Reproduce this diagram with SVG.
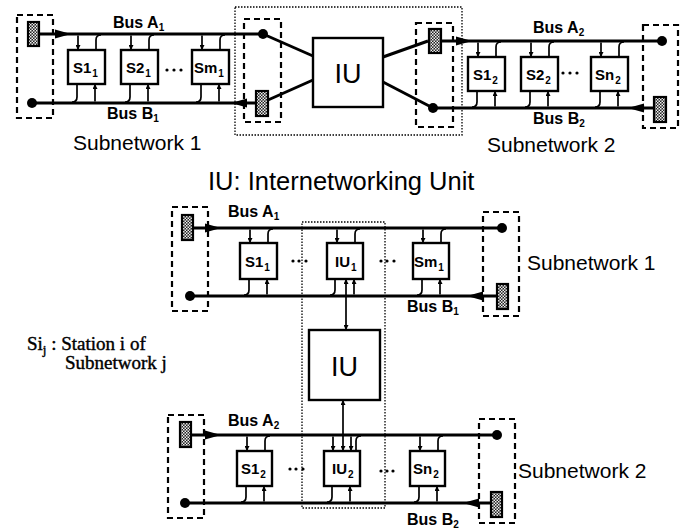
<svg xmlns="http://www.w3.org/2000/svg" width="688" height="529" viewBox="0 0 688 529">
<style>
.bus{stroke:#000;stroke-width:3;fill:none}
.box{fill:#fff;stroke:#000;stroke-width:2.4}
.tap{stroke:#000;stroke-width:1.7;fill:none}
.dash{fill:none;stroke:#000;stroke-width:2.2;stroke-dasharray:6 4}
.dot{fill:none;stroke:#000;stroke-width:1.3;stroke-dasharray:1.5 1.5}
.term{fill:url(#hatch);stroke:#000;stroke-width:2.2}
.ah{fill:#000}
.jn{fill:#000}
.lbl{font-family:"Liberation Sans",Arial,sans-serif;font-weight:bold;font-size:16px;fill:#000}
.st{font-family:"Liberation Sans",Arial,sans-serif;font-weight:bold;font-size:15px;fill:#000}
.ss{font-size:10px}
.big{font-family:"Liberation Sans",Arial,sans-serif;font-size:21px;fill:#000}
.iu{font-family:"Liberation Sans",Arial,sans-serif;font-size:27px;fill:#000;text-anchor:middle}
.cap{font-family:"Liberation Sans",Arial,sans-serif;font-size:25.5px;fill:#000}
.ser{font-family:"Liberation Serif","Times New Roman",serif;font-size:19px;fill:#000;stroke:#000;stroke-width:0.4}
</style>
<defs>
<pattern id="hatch" width="3" height="3" patternUnits="userSpaceOnUse">
<rect width="3" height="3" fill="#222"/>
<rect width="1.5" height="1.5" fill="#eee"/>
<rect x="1.5" y="1.5" width="1.5" height="1.5" fill="#eee"/>
</pattern>
<marker id="sa" viewBox="0 0 6 6" refX="6" refY="3" markerWidth="5" markerHeight="5" orient="auto-start-reverse" markerUnits="userSpaceOnUse">
<path d="M0,0L6,3L0,6z" fill="#000"/>
</marker>
</defs>
<rect width="688" height="529" fill="#fff"/>

<!-- ================= TOP DIAGRAM ================= -->
<g id="top-frames">
<rect class="dash" x="17" y="15" width="36" height="103"/>
<rect class="dot" x="235" y="7" width="227" height="128"/>
<rect class="dash" x="244" y="19" width="37" height="103"/>
<rect class="dash" x="416" y="23" width="37" height="104"/>
<rect class="dash" x="643" y="25" width="35" height="103"/>
</g>

<g id="connectors-top">
<path class="bus" d="M39,34H263"/>
<path class="bus" d="M32,103H255"/>
<path class="bus" d="M263,34L313,56"/>
<path class="bus" d="M268,100L313,80"/>
<path class="bus" d="M383,57L428,41"/>
<path class="bus" d="M383,82L433,108"/>
<path class="bus" d="M442,41H662"/>
<path class="bus" d="M433,108H653"/>
<polygon class="ah" points="55,29.5 71,34 55,38.5"/>
<polygon class="ah" points="247,98.5 231,103 247,107.5"/>
<polygon class="ah" points="456,36.5 472,41 456,45.5"/>
<polygon class="ah" points="644,103.5 628,108 644,112.5"/>
<circle class="jn" cx="32" cy="103" r="5"/>
<circle class="jn" cx="263" cy="34" r="5"/>
<circle class="jn" cx="433" cy="108" r="5"/>
<circle class="jn" cx="662" cy="41" r="5"/>
<!-- taps subnet 1 top -->
<path class="tap" d="M78,35.5V50" marker-end="url(#sa)"/>
<path class="tap" d="M96,50V40Q96,35 101,35"/>
<path class="tap" d="M77,84V97Q77,102 72,102"/>
<path class="tap" d="M95,101.5V84" marker-end="url(#sa)"/>
<path class="tap" d="M131,35.5V50" marker-end="url(#sa)"/>
<path class="tap" d="M149,50V40Q149,35 154,35"/>
<path class="tap" d="M130,84V97Q130,102 125,102"/>
<path class="tap" d="M148,101.5V84" marker-end="url(#sa)"/>
<path class="tap" d="M202,35.5V50" marker-end="url(#sa)"/>
<path class="tap" d="M220,50V40Q220,35 225,35"/>
<path class="tap" d="M201,84V97Q201,102 196,102"/>
<path class="tap" d="M219,101.5V84" marker-end="url(#sa)"/>
<!-- taps subnet 2 top -->
<path class="tap" d="M478,42.5V57" marker-end="url(#sa)"/>
<path class="tap" d="M496,57V47Q496,42 501,42"/>
<path class="tap" d="M477,91V102Q477,107 472,107"/>
<path class="tap" d="M495,106.5V91" marker-end="url(#sa)"/>
<path class="tap" d="M531,42.5V57" marker-end="url(#sa)"/>
<path class="tap" d="M549,57V47Q549,42 554,42"/>
<path class="tap" d="M530,91V102Q530,107 525,107"/>
<path class="tap" d="M548,106.5V91" marker-end="url(#sa)"/>
<path class="tap" d="M601,42.5V57" marker-end="url(#sa)"/>
<path class="tap" d="M619,57V47Q619,42 624,42"/>
<path class="tap" d="M600,91V102Q600,107 595,107"/>
<path class="tap" d="M618,106.5V91" marker-end="url(#sa)"/>
</g>

<g id="t-term-l"><rect class="term" x="28" y="22" width="11" height="24"/></g>
<g id="t-term-m1"><rect class="term" x="256" y="91" width="12" height="25"/></g>
<g id="t-term-m2"><rect class="term" x="429" y="29" width="12" height="24"/></g>
<g id="t-term-r"><rect class="term" x="654" y="97" width="12" height="25"/></g>

<g id="t-S1-1"><rect class="box" x="68" y="50" width="37" height="34"/><text class="st" x="73" y="73">S1<tspan class="ss" dx="1" dy="4">1</tspan></text></g>
<g id="t-S2-1"><rect class="box" x="121" y="50" width="37" height="34"/><text class="st" x="126" y="73">S2<tspan class="ss" dx="1" dy="4">1</tspan></text></g>
<g id="t-Sm-1"><rect class="box" x="192" y="50" width="37" height="34"/><text class="st" x="194" y="73">Sm<tspan class="ss" dx="1" dy="4">1</tspan></text></g>
<g id="t-dots1"><circle cx="167" cy="70" r="1.6"/><circle cx="174" cy="70" r="1.6"/><circle cx="181" cy="70" r="1.6"/></g>

<g id="t-S1-2"><rect class="box" x="468" y="57" width="37" height="34"/><text class="st" x="473" y="80">S1<tspan class="ss" dx="1" dy="4">2</tspan></text></g>
<g id="t-S2-2"><rect class="box" x="521" y="57" width="37" height="34"/><text class="st" x="526" y="80">S2<tspan class="ss" dx="1" dy="4">2</tspan></text></g>
<g id="t-Sn-2"><rect class="box" x="591" y="57" width="37" height="34"/><text class="st" x="595" y="80">Sn<tspan class="ss" dx="1" dy="4">2</tspan></text></g>
<g id="t-dots2"><circle cx="563" cy="73" r="1.6"/><circle cx="570" cy="73" r="1.6"/><circle cx="577" cy="73" r="1.6"/></g>

<g id="t-IU"><rect class="box" x="313" y="38" width="70" height="69"/><text class="iu" x="348" y="83">IU</text></g>

<g id="t-labels">
<text class="lbl" x="113" y="28">Bus A<tspan class="ss" dy="3">1</tspan></text>
<text class="lbl" x="107" y="119">Bus B<tspan class="ss" dy="3">1</tspan></text>
<text class="lbl" x="533" y="33">Bus A<tspan class="ss" dy="3">2</tspan></text>
<text class="lbl" x="533" y="124">Bus B<tspan class="ss" dy="3">2</tspan></text>
<text class="big" x="73" y="150">Subnetwork 1</text>
<text class="big" x="487" y="152">Subnetwork 2</text>
<text class="cap" x="208" y="190">IU: Internetworking Unit</text>
</g>

<!-- ================= BOTTOM DIAGRAM ================= -->
<g id="bottom-frames">
<rect class="dash" x="172" y="207" width="36" height="104"/>
<rect class="dash" x="483" y="212" width="36" height="104"/>
<rect class="dash" x="168" y="415" width="36" height="103"/>
<rect class="dash" x="479" y="419" width="36" height="104"/>
<rect class="dot" x="302" y="222" width="83" height="286"/>
</g>

<g id="connectors-bottom">
<path class="bus" d="M194,228H502"/>
<path class="bus" d="M190,296H496"/>
<path class="bus" d="M192,435H497"/>
<path class="bus" d="M185,503H491"/>
<polygon class="ah" points="205,223.5 221,228 205,232.5"/>
<polygon class="ah" points="483,291.5 467,296 483,300.5"/>
<polygon class="ah" points="205,430.5 221,435 205,439.5"/>
<polygon class="ah" points="479,498.5 463,503 479,507.5"/>
<circle class="jn" cx="190" cy="296" r="5"/>
<circle class="jn" cx="502" cy="228" r="5"/>
<circle class="jn" cx="185" cy="503" r="5"/>
<circle class="jn" cx="497" cy="435" r="5"/>
<!-- IU links -->
<path class="tap" d="M346,279V330" marker-start="url(#sa)" marker-end="url(#sa)"/>
<path class="tap" d="M343,400V451" marker-start="url(#sa)" marker-end="url(#sa)"/>
<!-- subnet 1 taps -->
<path class="tap" d="M250,229.5V243" marker-end="url(#sa)"/>
<path class="tap" d="M268,243V234Q268,229 273,229"/>
<path class="tap" d="M249,279V290Q249,295 244,295"/>
<path class="tap" d="M267,294.5V279" marker-end="url(#sa)"/>
<path class="tap" d="M337,229.5V243" marker-end="url(#sa)"/>
<path class="tap" d="M355,243V234Q355,229 360,229"/>
<path class="tap" d="M335,279V290Q335,295 330,295"/>
<path class="tap" d="M354,294.5V279" marker-end="url(#sa)"/>
<path class="tap" d="M423,229.5V243" marker-end="url(#sa)"/>
<path class="tap" d="M441,243V234Q441,229 446,229"/>
<path class="tap" d="M422,279V290Q422,295 417,295"/>
<path class="tap" d="M440,294.5V279" marker-end="url(#sa)"/>
<!-- subnet 2 taps -->
<path class="tap" d="M247,436.5V451" marker-end="url(#sa)"/>
<path class="tap" d="M265,451V441Q265,436 270,436"/>
<path class="tap" d="M246,486V497Q246,502 241,502"/>
<path class="tap" d="M264,501.5V486" marker-end="url(#sa)"/>
<path class="tap" d="M333,436.5V451" marker-end="url(#sa)"/>
<path class="tap" d="M351,436.5V451" marker-end="url(#sa)"/>
<path class="tap" d="M356,451V441Q356,436 361,436"/>
<path class="tap" d="M332,486V497Q332,502 327,502"/>
<path class="tap" d="M350,501.5V486" marker-end="url(#sa)"/>
<path class="tap" d="M420,436.5V451" marker-end="url(#sa)"/>
<path class="tap" d="M438,451V441Q438,436 443,436"/>
<path class="tap" d="M419,486V497Q419,502 414,502"/>
<path class="tap" d="M437,501.5V486" marker-end="url(#sa)"/>
</g>

<g id="b-term1l"><rect class="term" x="182" y="215" width="11" height="25"/></g>
<g id="b-term1r"><rect class="term" x="497" y="284" width="11" height="25"/></g>
<g id="b-term2l"><rect class="term" x="180" y="422" width="11" height="25"/></g>
<g id="b-term2r"><rect class="term" x="491" y="492" width="11" height="25"/></g>

<g id="b-S1-1"><rect class="box" x="240" y="243" width="37" height="36"/><text class="st" x="245" y="267">S1<tspan class="ss" dx="1" dy="4">1</tspan></text></g>
<g id="b-IU-1"><rect class="box" x="327" y="243" width="36" height="36"/><text class="st" x="335" y="267">IU<tspan class="ss" dx="1" dy="4">1</tspan></text></g>
<g id="b-Sm-1"><rect class="box" x="413" y="243" width="36" height="36"/><text class="st" x="414" y="267">Sm<tspan class="ss" dx="1" dy="4">1</tspan></text></g>
<g id="b-dots1a"><circle cx="293" cy="261" r="1.6"/><circle cx="299" cy="261" r="1.6"/><circle cx="306" cy="261" r="1.6"/></g>
<g id="b-dots1b"><circle cx="381" cy="261" r="1.6"/><circle cx="387" cy="261" r="1.6"/><circle cx="394" cy="261" r="1.6"/></g>

<g id="b-IU"><rect class="box" x="309" y="330" width="71" height="70"/><text class="iu" x="344.5" y="376">IU</text></g>

<g id="b-S1-2"><rect class="box" x="237" y="451" width="35" height="35"/><text class="st" x="241" y="474">S1<tspan class="ss" dx="1" dy="4">2</tspan></text></g>
<g id="b-IU-2"><rect class="box" x="324" y="451" width="36" height="35"/><text class="st" x="332" y="474">IU<tspan class="ss" dx="1" dy="4">2</tspan></text></g>
<g id="b-Sn-2"><rect class="box" x="410" y="451" width="35" height="35"/><text class="st" x="413" y="474">Sn<tspan class="ss" dx="1" dy="4">2</tspan></text></g>
<g id="b-dots2a"><circle cx="290" cy="469" r="1.6"/><circle cx="296" cy="469" r="1.6"/><circle cx="303" cy="469" r="1.6"/></g>
<g id="b-dots2b"><circle cx="381" cy="471" r="1.6"/><circle cx="387" cy="471" r="1.6"/><circle cx="393" cy="471" r="1.6"/></g>

<g id="b-labels">
<text class="lbl" x="228" y="217">Bus A<tspan class="ss" dy="3">1</tspan></text>
<text class="lbl" x="407" y="312">Bus B<tspan class="ss" dy="3">1</tspan></text>
<text class="lbl" x="228" y="426">Bus A<tspan class="ss" dy="3">2</tspan></text>
<text class="lbl" x="407" y="525">Bus B<tspan class="ss" dy="3">2</tspan></text>
<text class="big" x="527" y="270">Subnetwork 1</text>
<text class="big" x="518" y="478">Subnetwork 2</text>
<text class="ser" x="27" y="350">Si<tspan font-size="13" dy="4">j</tspan><tspan dy="-4"> : Station i of</tspan></text>
<text class="ser" x="65" y="369">Subnetwork j</text>
</g>
</svg>
